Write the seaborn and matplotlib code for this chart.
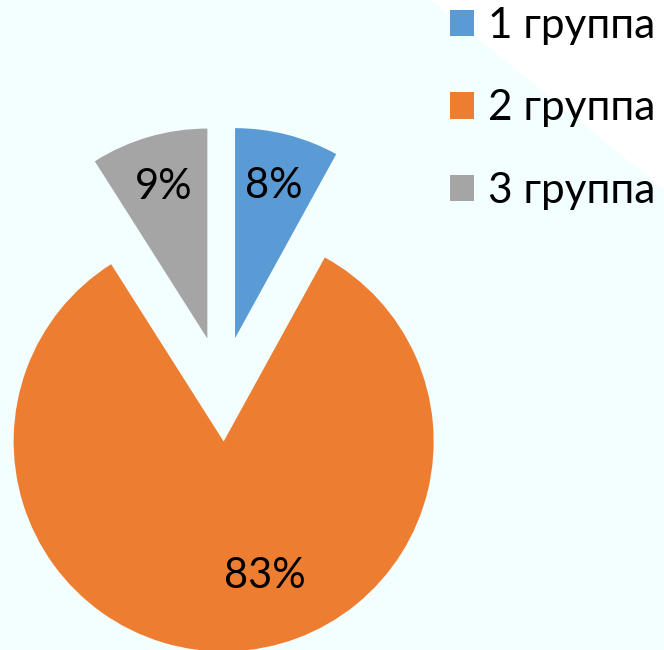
import matplotlib
matplotlib.use('Agg')
import matplotlib.pyplot as plt
import seaborn as sns
import numpy as np
from matplotlib.patches import Polygon

categories = ['1 группа', '2 группа', '3 группа']
values = [8, 83, 9]
colors = ['#5B9BD5', '#ED7D31', '#A5A5A5']

sns.set_theme(style='white')
plt.rcParams['font.family'] = ['Lato', 'Open Sans', 'DejaVu Sans']
plt.rcParams['text.color'] = 'black'

W, H = 664, 650
fig = plt.figure(figsize=(W / 100, H / 100), dpi=100)
fig.patch.set_facecolor('#F3FEFF')
fig.patches.append(Polygon([(430 / W, 1), (1, 1), (1, 1 - 190 / H)], closed=True,
                           transform=fig.transFigure, facecolor='white',
                           edgecolor='none', zorder=-1))

ax = fig.add_axes([0, 0, 1, 1])
ax.set_facecolor('none')
R = 210
cx, cy = 222, 389
wedges, texts, autotexts = ax.pie(
    values, colors=colors, startangle=90, counterclock=False,
    explode=[0.25] * 3, radius=1, autopct='%.0f%%', pctdistance=0.75,
    textprops=dict(fontsize=30, color='black'),
    wedgeprops=dict(linewidth=0))
ax.set_xlim(-cx / R, (W - cx) / R)
ax.set_ylim(-(H - cy) / R, cy / R)
ax.axis('off')

# place the large-slice label a bit right of its mid-ray, as in the reference
w = wedges[1]
ang = np.deg2rad(-73)
autotexts[1].set_position((w.center[0] + 0.67 * np.cos(ang), w.center[1] + 0.67 * np.sin(ang)))

ax.legend(wedges, categories, loc='upper left', bbox_to_anchor=(450 / W, 1 - 7 / H),
          bbox_transform=fig.transFigure, frameon=False,
          prop=dict(size=30.5), labelcolor='black',
          handlelength=0.57, handleheight=0.57, handletextpad=0.32,
          labelspacing=1.05, borderpad=0, borderaxespad=0)

fig.savefig('out.png', dpi=100, facecolor=fig.get_facecolor())
